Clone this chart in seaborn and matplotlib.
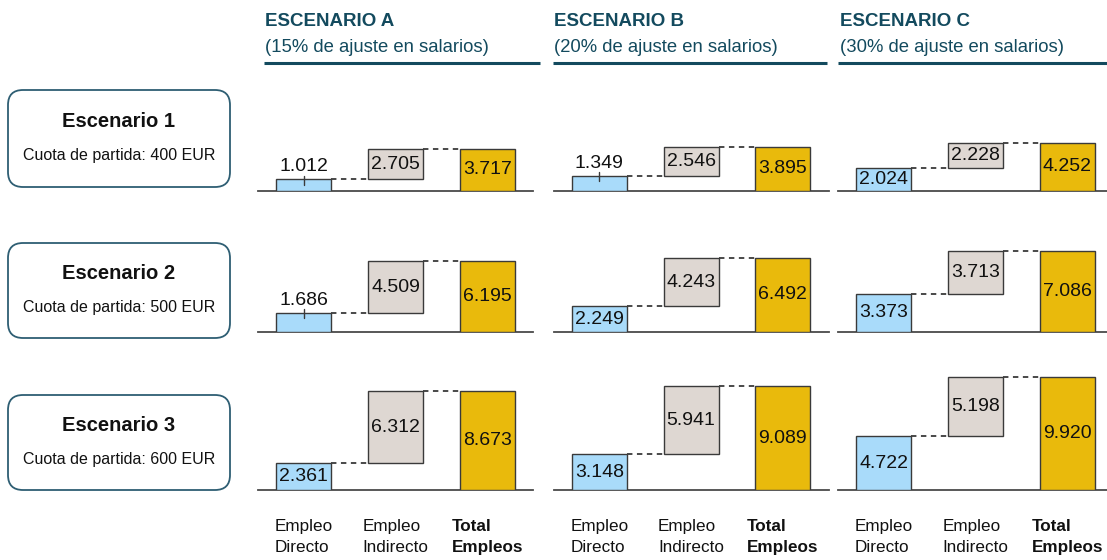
import pandas as pd
import matplotlib
matplotlib.use('Agg')
import matplotlib.pyplot as plt
from matplotlib.patches import FancyBboxPatch
import seaborn as sns

# datos (empleos)
escenarios = ['ESCENARIO A', 'ESCENARIO B', 'ESCENARIO C']
ajustes = ['(15% de ajuste en salarios)', '(20% de ajuste en salarios)', '(30% de ajuste en salarios)']
filas = ['Escenario 1', 'Escenario 2', 'Escenario 3']
cuotas = ['Cuota de partida: 400 EUR', 'Cuota de partida: 500 EUR', 'Cuota de partida: 600 EUR']
categorias = ['Directo', 'Indirecto', 'Total']
etiquetas_x = ['Empleo\nDirecto', 'Empleo\nIndirecto', 'Total\nEmpleos']

# filas = cuota (400, 500, 600), columnas = escenario (A, B, C)
directo = [[1012, 1349, 2024],
           [1686, 2249, 3373],
           [2361, 3148, 4722]]
indirecto = [[2705, 2546, 2228],
             [4509, 4243, 3713],
             [6312, 5941, 5198]]
total = [[3717, 3895, 4252],
         [6195, 6492, 7086],
         [8673, 9089, 9920]]

col_dir = '#A9DBFA'
col_ind = '#DED7D2'
col_tot = '#E9BA0C'
col_edge = '#3A3A3A'
col_tit = '#134A5E'

sns.set_style('white')
plt.rcParams['font.family'] = ['Liberation Sans', 'DejaVu Sans']

W, H = 1107, 560
fig = plt.figure(figsize=(W / 100, H / 100), dpi=100)

# capa de fondo en pixeles
bg = fig.add_axes([0, 0, 1, 1])
bg.set_xlim(0, W)
bg.set_ylim(H, 0)
bg.axis('off')

px_unit = 11.4 / 1000   # pixeles por empleo
ax_h = 125
ax_w = 275
col_left = [258, 553.5, 838]
baselines = [191, 332, 490]
ylim_top = ax_h / px_unit
px = 1 / px_unit  # empleos por pixel

fs_val = 14

def fmt(v):
    return f'{v:,}'.replace(',', '.')

for i in range(3):
    for j in range(3):
        d, ind, t = directo[i][j], indirecto[i][j], total[i][j]
        ax = fig.add_axes([col_left[j] / W, (H - baselines[i]) / H, ax_w / W, ax_h / H])
        ax.patch.set_alpha(0)
        df = pd.DataFrame({'cat': ['Directo', 'Total'], 'val': [d, t]})
        sns.barplot(data=df, x='cat', y='val', order=categorias, hue='cat',
                    palette={'Directo': col_dir, 'Total': col_tot}, legend=False,
                    saturation=1, width=0.6, edgecolor=col_edge, linewidth=1.0,
                    ax=ax, zorder=3)
        ax.bar(1, ind, bottom=d, width=0.6, color=col_ind, edgecolor=col_edge,
               linewidth=1.0, zorder=3)
        ax.plot([0.3, 0.7], [d, d], color=col_edge, lw=1.3, ls=(0, (3, 2.5)), zorder=2)
        ax.plot([1.3, 1.7], [t, t], color=col_edge, lw=1.3, ls=(0, (3, 2.5)), zorder=2)

        if d < 2000:
            ax.text(0, d + 8 * px, fmt(d), ha='center', va='baseline', fontsize=fs_val, color='#111111')
            ax.plot([0, 0], [d - 5.5 * px, d + 3.5 * px], color=col_edge, lw=1.0, zorder=4)
        else:
            ax.text(0, d / 2, fmt(d), ha='center', va='center', fontsize=fs_val, color='#111111', zorder=5)
        ax.text(1, d + ind / 2, fmt(ind), ha='center', va='center', fontsize=fs_val, color='#111111', zorder=5)
        ax.text(2, t / 2, fmt(t), ha='center', va='center', fontsize=fs_val, color='#111111', zorder=5)

        ax.set_xlim(-0.5, 2.5)
        ax.set_ylim(0, ylim_top)
        ax.set_xticks([])
        ax.set_yticks([])
        ax.set_xlabel('')
        ax.set_ylabel('')
        for s in ['left', 'right', 'top']:
            ax.spines[s].set_visible(False)
        ax.spines['bottom'].set_color('#4A4A4A')
        ax.spines['bottom'].set_linewidth(1.3)

# cabeceras
head_x = [265, 554, 840]
line_x = [(264, 540), (553, 827), (838, 1107)]
for j in range(3):
    bg.text(head_x[j], 21, escenarios[j], ha='left', va='center', fontsize=13.5,
            fontweight='bold', color=col_tit)
    bg.text(head_x[j], 47, ajustes[j], ha='left', va='center', fontsize=13.3, color=col_tit)
    bg.plot(line_x[j], [63, 63], color=col_tit, lw=2.2, solid_capstyle='butt')

# cajas de la izquierda
cajas = [(8, 90, 187), (8, 243, 338), (8, 395, 490)]
for i, (x0, y0, y1) in enumerate(cajas):
    box = FancyBboxPatch((x0, y0), 222, y1 - y0, boxstyle='round,pad=0,rounding_size=15',
                         facecolor='white', edgecolor='#2E5E73', lw=1.3)
    bg.add_patch(box)
    cy = (y0 + y1) / 2
    bg.text(119, cy - 17, filas[i], ha='center', va='center', fontsize=14.5,
            fontweight='bold', color='#111111')
    bg.text(119, cy + 17, cuotas[i], ha='center', va='center', fontsize=11.5, color='#111111')

# etiquetas inferiores
for j in range(3):
    for k in range(3):
        cx = col_left[j] + (k + 0.5) * ax_w / 3
        bg.text(cx, 537, etiquetas_x[k], ha='center', va='center', multialignment='left',
                fontsize=12.3, linespacing=1.45, color='#111111',
                fontweight='bold' if k == 2 else 'normal')

fig.savefig('out.png', dpi=100)
